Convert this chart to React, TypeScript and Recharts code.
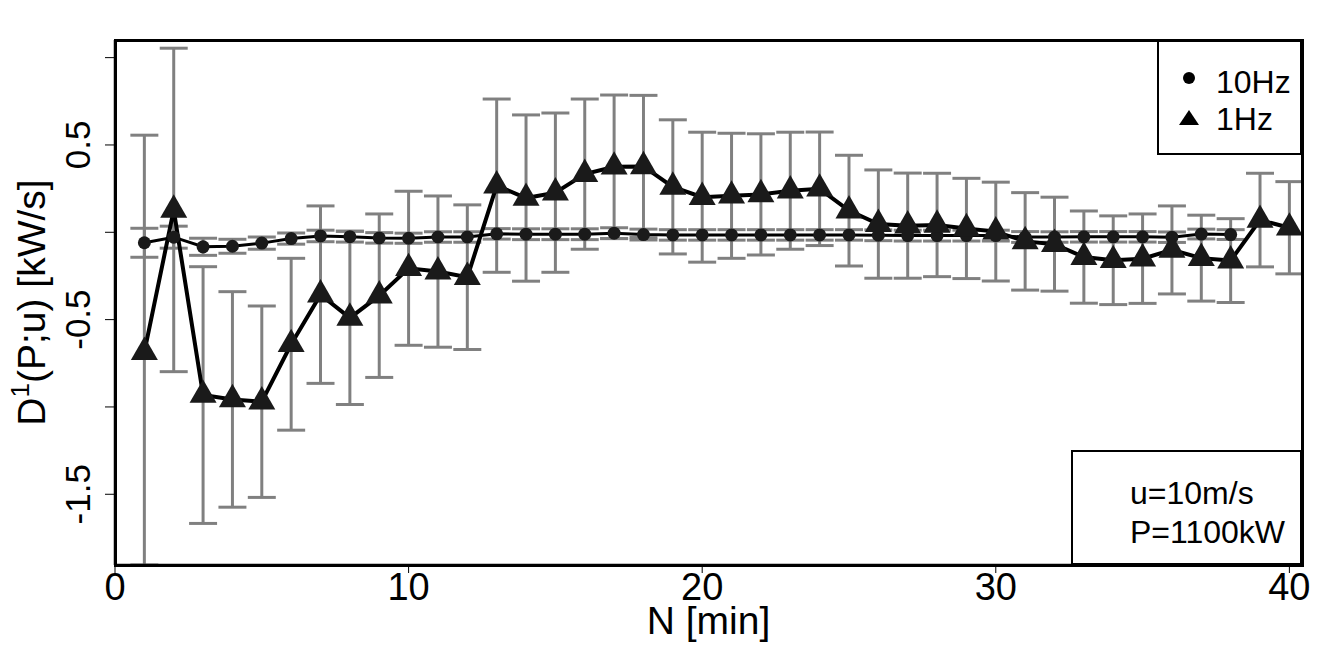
import React from 'react';
import { ComposedChart, Line, XAxis, YAxis, ErrorBar } from 'recharts';

// minutes (x) for both sampling rates
const minutes10Hz = [1, 2, 3, 4, 5, 6, 7, 8, 9, 10, 11, 12, 13, 14, 15, 16, 17, 18, 19, 20, 21, 22, 23, 24, 25, 26, 27, 28, 29, 30, 31, 32, 33, 34, 35, 36, 37, 38];
const minutes1Hz = [1, 2, 3, 4, 5, 6, 7, 8, 9, 10, 11, 12, 13, 14, 15, 16, 17, 18, 19, 20, 21, 22, 23, 24, 25, 26, 27, 28, 29, 30, 31, 32, 33, 34, 35, 36, 37, 38, 39, 40];

// D1 estimates [kW/s] and their error
const d1_10Hz = [-0.06, -0.028, -0.083, -0.08, -0.062, -0.036, -0.021, -0.025, -0.032, -0.034, -0.027, -0.027, -0.009, -0.011, -0.011, -0.011, -0.005, -0.013, -0.015, -0.015, -0.015, -0.015, -0.015, -0.015, -0.015, -0.017, -0.019, -0.019, -0.019, -0.019, -0.027, -0.027, -0.026, -0.026, -0.026, -0.028, -0.01, -0.013];
const err10Hz = [0.083, 0.063, 0.049, 0.04, 0.035, 0.032, 0.033, 0.031, 0.03, 0.029, 0.03, 0.03, 0.03, 0.031, 0.031, 0.031, 0.031, 0.031, 0.03, 0.03, 0.03, 0.03, 0.03, 0.03, 0.03, 0.031, 0.031, 0.031, 0.031, 0.031, 0.031, 0.03, 0.03, 0.03, 0.03, 0.03, 0.028, 0.028];

const d1_1Hz = [-0.686, 0.128, -0.932, -0.957, -0.97, -0.641, -0.357, -0.49, -0.363, -0.206, -0.225, -0.257, 0.267, 0.196, 0.227, 0.333, 0.375, 0.377, 0.26, 0.201, 0.209, 0.217, 0.238, 0.249, 0.124, 0.047, 0.038, 0.042, 0.022, 0.004, -0.052, -0.068, -0.142, -0.16, -0.151, -0.101, -0.148, -0.162, 0.07, 0.026];
const err1Hz = [1.242, 0.926, 0.735, 0.617, 0.548, 0.492, 0.508, 0.496, 0.468, 0.441, 0.433, 0.414, 0.496, 0.476, 0.456, 0.43, 0.411, 0.407, 0.384, 0.372, 0.358, 0.347, 0.335, 0.325, 0.317, 0.31, 0.301, 0.296, 0.287, 0.283, 0.279, 0.269, 0.264, 0.254, 0.256, 0.252, 0.246, 0.24, 0.268, 0.264];

const xDomain = [0, 40.43];
const yDomain = [-1.905, 1.101];
const xTicks = [0, 10, 20, 30, 40];
const yTicks = [-1.5, -1, -0.5, 0, 0.5, 1];
const yLabelled = [-1.5, -0.5, 0.5];

// error bars are cut at the lower edge of the plot, like the original
const errRange = (v: number, e: number) => [Math.min(e, v - yDomain[0]), Math.min(e, yDomain[1] - v)];

const data10 = minutes10Hz.map((n, i) => ({ n, d1: d1_10Hz[i], err: errRange(d1_10Hz[i], err10Hz[i]) }));
const data1 = minutes1Hz.map((n, i) => ({ n, d1: d1_1Hz[i], err: errRange(d1_1Hz[i], err1Hz[i]) }));

const FONT = '"Liberation Sans", Arial, sans-serif';
const GREY = '#808080';

const Triangle = (props: any) => {
    const { cx, cy, index } = props;
    if (cx == null || cy == null) return null;
    const pts = `${cx},${cy - 15.6} ${cx + 13.5},${cy + 7.8} ${cx - 13.5},${cy + 7.8}`;
    return <polygon key={`tri-${index}`} points={pts} fill="#1a1a1a" />;
};

const Dot = (props: any) => {
    const { cx, cy, index } = props;
    if (cx == null || cy == null) return null;
    return <circle key={`dot-${index}`} cx={cx} cy={cy} r={6.5} fill="#1a1a1a" />;
};

const XTick = (props: any) => {
    const { x, y, payload } = props;
    return (
        <text x={x} y={y + 27} textAnchor="middle" fontSize={38} fontFamily={FONT} fill="#000">
            {payload.value}
        </text>
    );
};

const YTick = (props: any) => {
    const { x, y, payload } = props;
    if (!yLabelled.includes(payload.value)) return null;
    const bx = x - 15;
    return (
        <text x={bx} y={y} transform={`rotate(-90 ${bx} ${y})`} textAnchor="middle" fontSize={35} fontFamily={FONT} fill="#000">
            {payload.value}
        </text>
    );
};

const YLabel = (props: any) => {
    const vb = props.viewBox || { x: 0, y: 40, width: 115, height: 525 };
    const bx = vb.x + 45;
    const cy = vb.y + vb.height / 2;
    return (
        <text x={bx} y={cy} transform={`rotate(-90 ${bx} ${cy})`} textAnchor="middle" fontSize={39} fontFamily={FONT} fill="#000">
            <tspan>D</tspan>
            <tspan fontSize={26} dy={-16}>1</tspan>
            <tspan dy={16}>(P;u) [kW/s]</tspan>
        </text>
    );
};

const XLabel = (props: any) => {
    const vb = props.viewBox || { x: 115, y: 565, width: 1187, height: 106 };
    return (
        <text x={vb.x + vb.width / 2} y={vb.y + 69} textAnchor="middle" fontSize={39} fontFamily={FONT} fill="#000">
            N [min]
        </text>
    );
};

const boxStyle: React.CSSProperties = {
    position: 'absolute',
    border: '2.5px solid #000',
    boxSizing: 'border-box',
    background: '#fff',
    fontFamily: FONT,
    fontSize: 32,
    color: '#000',
};

export default function App() {
    return (
        <div style={{ position: 'absolute', left: 0, top: 0, width: 1344, height: 671, background: '#fff' }}>
            <ComposedChart width={1344} height={671} margin={{ top: 40, right: 42, left: 0, bottom: 0 }}>
                <XAxis
                    dataKey="n"
                    type="number"
                    domain={xDomain}
                    allowDataOverflow
                    ticks={xTicks}
                    interval={0}
                    height={106}
                    tickSize={8}
                    tickMargin={0}
                    axisLine={{ stroke: '#000', strokeWidth: 2.5 }}
                    tickLine={{ stroke: '#000', strokeWidth: 1 }}
                    tick={<XTick />}
                    label={{ content: (p: any) => <XLabel {...p} /> }}
                />
                <YAxis
                    type="number"
                    domain={yDomain}
                    allowDataOverflow
                    ticks={yTicks}
                    interval={0}
                    width={115}
                    tickSize={10}
                    tickMargin={0}
                    axisLine={{ stroke: '#000', strokeWidth: 2.5 }}
                    tickLine={{ stroke: '#000', strokeWidth: 1 }}
                    tick={<YTick />}
                    label={{ content: (p: any) => <YLabel {...p} /> }}
                />

                <Line data={data10} dataKey="d1" name="10Hz" stroke="#000" strokeWidth={3} dot={<Dot />} activeDot={false} isAnimationActive={false}>
                    <ErrorBar dataKey="err" width={14} stroke={GREY} strokeWidth={3} direction="y" isAnimationActive={false} />
                </Line>
                <Line data={data1} dataKey="d1" name="1Hz" stroke="#000" strokeWidth={4} dot={<Triangle />} activeDot={false} isAnimationActive={false}>
                    <ErrorBar dataKey="err" width={14} stroke={GREY} strokeWidth={3} direction="y" isAnimationActive={false} />
                </Line>
            </ComposedChart>

            {/* plot frame (box) */}
            <div style={{ position: 'absolute', left: 113.5, top: 38.5, width: 1190, height: 528, border: '3px solid #000', boxSizing: 'border-box' }} />

            <div style={{ ...boxStyle, left: 1157, top: 40, width: 145, height: 115 }}>
                <svg width={30} height={80} style={{ position: 'absolute', left: 16, top: 20 }}>
                    <circle cx={14} cy={16} r={6} fill="#000" />
                    <polygon points="14,48 24,63 4,63" fill="#000" />
                </svg>
                <div style={{ position: 'absolute', left: 57, top: 22, lineHeight: '37px', whiteSpace: 'nowrap' }}>10Hz</div>
                <div style={{ position: 'absolute', left: 57, top: 59, lineHeight: '37px', whiteSpace: 'nowrap' }}>1Hz</div>
            </div>

            <div style={{ ...boxStyle, left: 1071, top: 450, width: 231, height: 115 }}>
                <div style={{ position: 'absolute', left: 57, top: 22, lineHeight: '39px', whiteSpace: 'nowrap' }}>u=10m/s</div>
                <div style={{ position: 'absolute', left: 57, top: 61, lineHeight: '39px', whiteSpace: 'nowrap' }}>P=1100kW</div>
            </div>
        </div>
    );
}
